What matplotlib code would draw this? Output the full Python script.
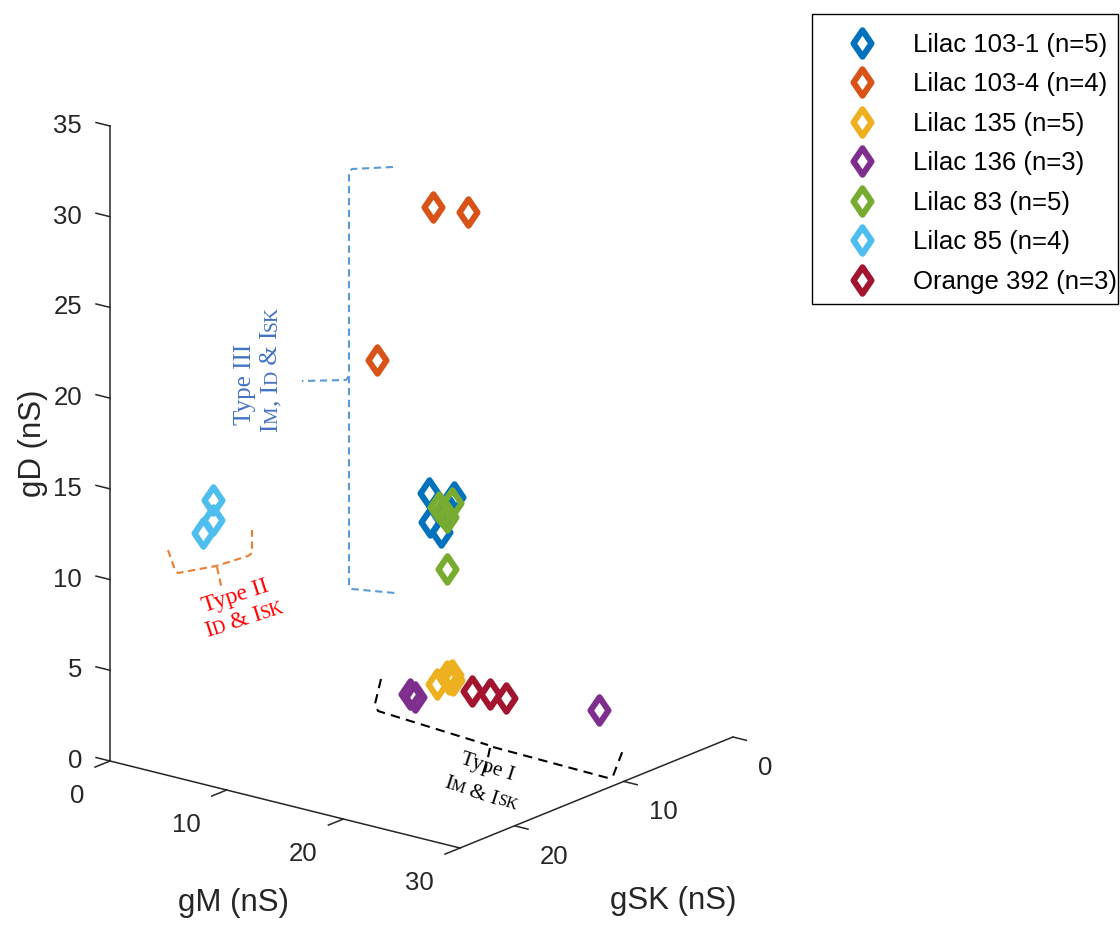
import numpy as np
import matplotlib
matplotlib.use("Agg")
import matplotlib.pyplot as plt
from matplotlib.path import Path
from matplotlib.markers import MarkerStyle
from matplotlib.lines import Line2D
from matplotlib.patches import Rectangle

# ---------------- data ----------------
series_labels = ["Lilac 103-1 (n=5)", "Lilac 103-4 (n=4)", "Lilac 135 (n=5)",
                 "Lilac 136 (n=3)", "Lilac 83 (n=5)", "Lilac 85 (n=4)",
                 "Orange 392 (n=3)"]
series_colors = ["#0072BD", "#D95319", "#EDB120", "#7E2F8E",
                 "#77AC30", "#4DBEEE", "#A2142F"]

# conductances in nS: (gM, gSK, gD)
lilac103_1_gM = [11.43, 13.58, 11.52, 12.44, 12.98]
lilac103_1_gSK = [8.0, 8.0, 8.0, 8.0, 8.0]
lilac103_1_gD = [12.45, 12.58, 10.87, 10.47, 11.86]

lilac103_4_gM = [15.54, 18.49, 10.69]
lilac103_4_gSK = [12.0, 12.0, 12.0]
lilac103_4_gD = [29.86, 30.02, 20.63]

lilac135_gM = [7.32, 6.81, 6.94, 7.65, 7.31]
lilac135_gSK = [2.88, 1.41, 1.10, 1.76, 1.76]
lilac135_gD = [0.0, 0.0, 0.0, 0.0, 0.0]

lilac136_gM = [7.23, 7.81, 19.34]
lilac136_gSK = [5.25, 5.42, 0.88]
lilac136_gD = [0.0, 0.0, 0.0]

lilac83_gM = [13.23, 14.31, 13.89, 13.89, 13.57]
lilac83_gSK = [9.0, 9.0, 9.0, 9.0, 9.0]
lilac83_gD = [12.22, 12.61, 11.77, 8.89, 11.98]

lilac85_gM = [0.0, 0.0, 0.0]
lilac85_gSK = [15.60, 15.60, 16.51]
lilac85_gD = [12.11, 10.98, 10.49]

orange392_gM = [10.07, 11.45, 12.86]
orange392_gSK = [2.59, 2.43, 2.48]
orange392_gD = [0.0, 0.0, 0.0]

gM_lim = (0, 30)
gSK_lim = (0, 25)
gD_lim = (0, 35)
gM_ticks = [0, 10, 20, 30]
gSK_ticks = [0, 10, 20]
gD_ticks = [0, 5, 10, 15, 20, 25, 30, 35]

# ---------------- figure ----------------
W, H = 1120, 927
fig = plt.figure(figsize=(W / 100, H / 100), dpi=100)
SANS = "Liberation Sans"
SERIF = "Liberation Serif"
AXC = "#262626"

side0 = 800.0
ax = fig.add_axes([50 / W, 50 / H, side0 / W, side0 / H], projection="3d")
ax.set_proj_type("ortho")
ax.view_init(elev=18.54, azim=-51.98)
ax.set_box_aspect((444.3, 443.2, 669.8))
ax.set_xlim(*gM_lim)
ax.set_ylim(gSK_lim[1], gSK_lim[0])   # gSK grows toward the viewer
ax.set_zlim(*gD_lim)
ax.set_axis_off()
ax.computed_zorder = False
ax.patch.set_visible(False)

gM0, gM1 = gM_lim
gSK_front = gSK_lim[1]

# axis lines
ax.plot([gM0, gM0], [gSK_front, gSK_front], [gD_lim[0], gD_lim[1]], color=AXC, lw=1.1)
ax.plot([gM0, gM1], [gSK_front, gSK_front], [0, 0], color=AXC, lw=1.1)
ax.plot([gM1, gM1], [gSK_front, gSK_lim[0]], [0, 0], color=AXC, lw=1.1)

# tick marks
for z in gD_ticks:
    ax.plot([gM0, gM0 - 1.2], [gSK_front, gSK_front], [z, z], color=AXC, lw=1.1)
for x in gM_ticks:
    ax.plot([x, x], [gSK_front, gSK_front + 1.37], [0, 0], color=AXC, lw=1.1)
for y in gSK_ticks:
    ax.plot([gM1, gM1 + 1.15], [y, y], [0, 0], color=AXC, lw=1.1)

# diamond marker
_dpath = Path([(0, 1), (0.68, 0), (0, -1), (-0.68, 0), (0, 1)],
              [Path.MOVETO, Path.LINETO, Path.LINETO, Path.LINETO, Path.CLOSEPOLY])
DIAMOND = MarkerStyle(_dpath, joinstyle="miter")
MS, MEW = 19, 4.4

series = [
    (lilac103_1_gM, lilac103_1_gSK, lilac103_1_gD),
    (lilac103_4_gM, lilac103_4_gSK, lilac103_4_gD),
    (lilac135_gM, lilac135_gSK, lilac135_gD),
    (lilac136_gM, lilac136_gSK, lilac136_gD),
    (lilac83_gM, lilac83_gSK, lilac83_gD),
    (lilac85_gM, lilac85_gSK, lilac85_gD),
    (orange392_gM, orange392_gSK, orange392_gD),
]
for (gm, gsk, gd), col in zip(series, series_colors):
    ax.plot(gm, gsk, gd, linestyle="none", marker=DIAMOND, ms=MS, mew=MEW,
            mec=col, mfc="none")


def to_px(x, y, z):
    m = ax.get_proj()
    v = m @ np.array([x, y, z, 1.0])
    dx, dy = ax.transData.transform((v[0] / v[3], v[1] / v[3]))
    return dx, H - dy


# place the 3-D box: origin corner and top of the gD axis at fixed pixels
ORIGIN_PX = (110.0, 761.0)
ZTOP_PX = (110.0, 126.0)
fig.canvas.draw()
ox, oy = to_px(gM0, gSK_front, gD_lim[0])
tx, ty = to_px(gM0, gSK_front, gD_lim[1])
bb = ax.get_position()
S = bb.width * W
L = np.array([bb.x0 * W, bb.y0 * H])
k = (ORIGIN_PX[1] - ZTOP_PX[1]) / (oy - ty)
u0 = (np.array([ox, H - oy]) - L) / S
S2 = S * k
L2 = np.array([ORIGIN_PX[0], H - ORIGIN_PX[1]]) - S2 * u0
ax.set_position([L2[0] / W, L2[1] / H, S2 / W, S2 / H])
fig.canvas.draw()

# ---------------- overlay in pixel coordinates ----------------
ov = fig.add_axes([0, 0, 1, 1], zorder=5)
ov.set_xlim(0, W)
ov.set_ylim(H, 0)
ov.set_axis_off()
ov.patch.set_alpha(0)

TICK_FS = 18.5
for z in gD_ticks:
    px, py = to_px(gM0, gSK_front, z)
    ov.text(px - 28, py + 7, f"{z:g}", ha="right", va="baseline",
            fontsize=TICK_FS, family=SANS, color=AXC)
for x in gM_ticks:
    px, py = to_px(x, gSK_front, 0)
    ov.text(px - 26, py + 42, f"{x:g}", ha="right", va="baseline",
            fontsize=TICK_FS, family=SANS, color=AXC)
for y in gSK_ticks:
    px, py = to_px(gM1, y, 0)
    ov.text(px + 25, py + 38, f"{y:g}", ha="left", va="baseline",
            fontsize=TICK_FS, family=SANS, color=AXC)

LAB_FS = 22.5
ov.text(33, 443, "gD (nS)", rotation=90, ha="center", va="center",
        fontsize=LAB_FS, family=SANS, color=AXC)
ov.text(234, 903, "gM (nS)", ha="center", va="center",
        fontsize=LAB_FS, family=SANS, color=AXC)
ov.text(673, 901, "gSK (nS)", ha="center", va="center",
        fontsize=LAB_FS, family=SANS, color=AXC)

# group brackets
BLUE_B, ORANGE_B = "#5B9BD5", "#ED7D31"
ov.plot([393, 352, 349, 349, 346, 302], [167, 169, 172, 376, 380, 381],
        color=BLUE_B, lw=1.5, dashes=(3.5, 2.2))
ov.plot([349, 349, 352, 395], [376, 586, 589, 593],
        color=BLUE_B, lw=1.5, dashes=(3.5, 2.2))

ov.plot([168, 175, 178, 216, 248, 252, 252], [550, 570, 573, 566, 556, 553, 530],
        color=ORANGE_B, lw=1.5, dashes=(3.5, 2.2))
ov.plot([217, 222], [567, 590], color=ORANGE_B, lw=1.5, dashes=(3.5, 2.2))

ov.plot([381, 375, 378, 488], [679, 704, 711, 745],
        color="black", lw=1.5, dashes=(4.5, 3))
ov.plot([493, 608, 613, 623], [747, 778, 776, 750],
        color="black", lw=1.5, dashes=(4.5, 3))
ov.plot([490, 484], [748, 776], color="black", lw=1.5, dashes=(4.5, 3))

renderer = fig.canvas.get_renderer()


def put_runs(x, y, runs, angle, color):
    th = np.deg2rad(angle)
    for s, size in runs:
        t = ov.text(x, y, s, fontsize=size, family=SERIF, color=color,
                    rotation=angle, rotation_mode="anchor",
                    ha="left", va="baseline")
        w, _, _ = renderer.get_text_width_height_descent(
            s, t.get_fontproperties(), ismath=False)
        x += w * np.cos(th)
        y -= w * np.sin(th)


T3C = "#4472C4"
put_runs(251, 425, [("Type III", 18)], 90, T3C)
put_runs(277, 432, [("I", 18), ("M", 14), (", I", 18), ("D", 14),
                    (" & I", 18), ("SK", 14)], 90, T3C)

put_runs(204, 612, [("Type II", 17)], 18, "#FF0000")
put_runs(207, 637, [("I", 17), ("D", 13), (" & I", 17), ("SK", 13)], 18, "#FF0000")

put_runs(460, 763, [("Type I", 15.5)], -18, "black")
put_runs(443, 787, [("I", 15.5), ("M", 11.5), (" & I", 15.5), ("SK", 11.5)], -18, "black")

# legend
handles = [Line2D([], [], linestyle="none", marker=DIAMOND, ms=MS, mew=MEW,
                  mec=c, mfc="none") for c in series_colors]
ov.add_patch(Rectangle((812, 14), 306, 290, fill=False, edgecolor="black",
                       lw=1.0))
leg = ov.legend(handles, series_labels, loc="upper left",
                bbox_to_anchor=(836, 33), bbox_transform=ov.transData,
                frameon=False, borderpad=0, borderaxespad=0,
                handlelength=2.0, handletextpad=0.98, labelspacing=0.60,
                numpoints=1, prop={"family": SANS, "size": 18.5})
for t in leg.get_texts():
    t.set_color("black")

fig.savefig("out.png", dpi=100)
